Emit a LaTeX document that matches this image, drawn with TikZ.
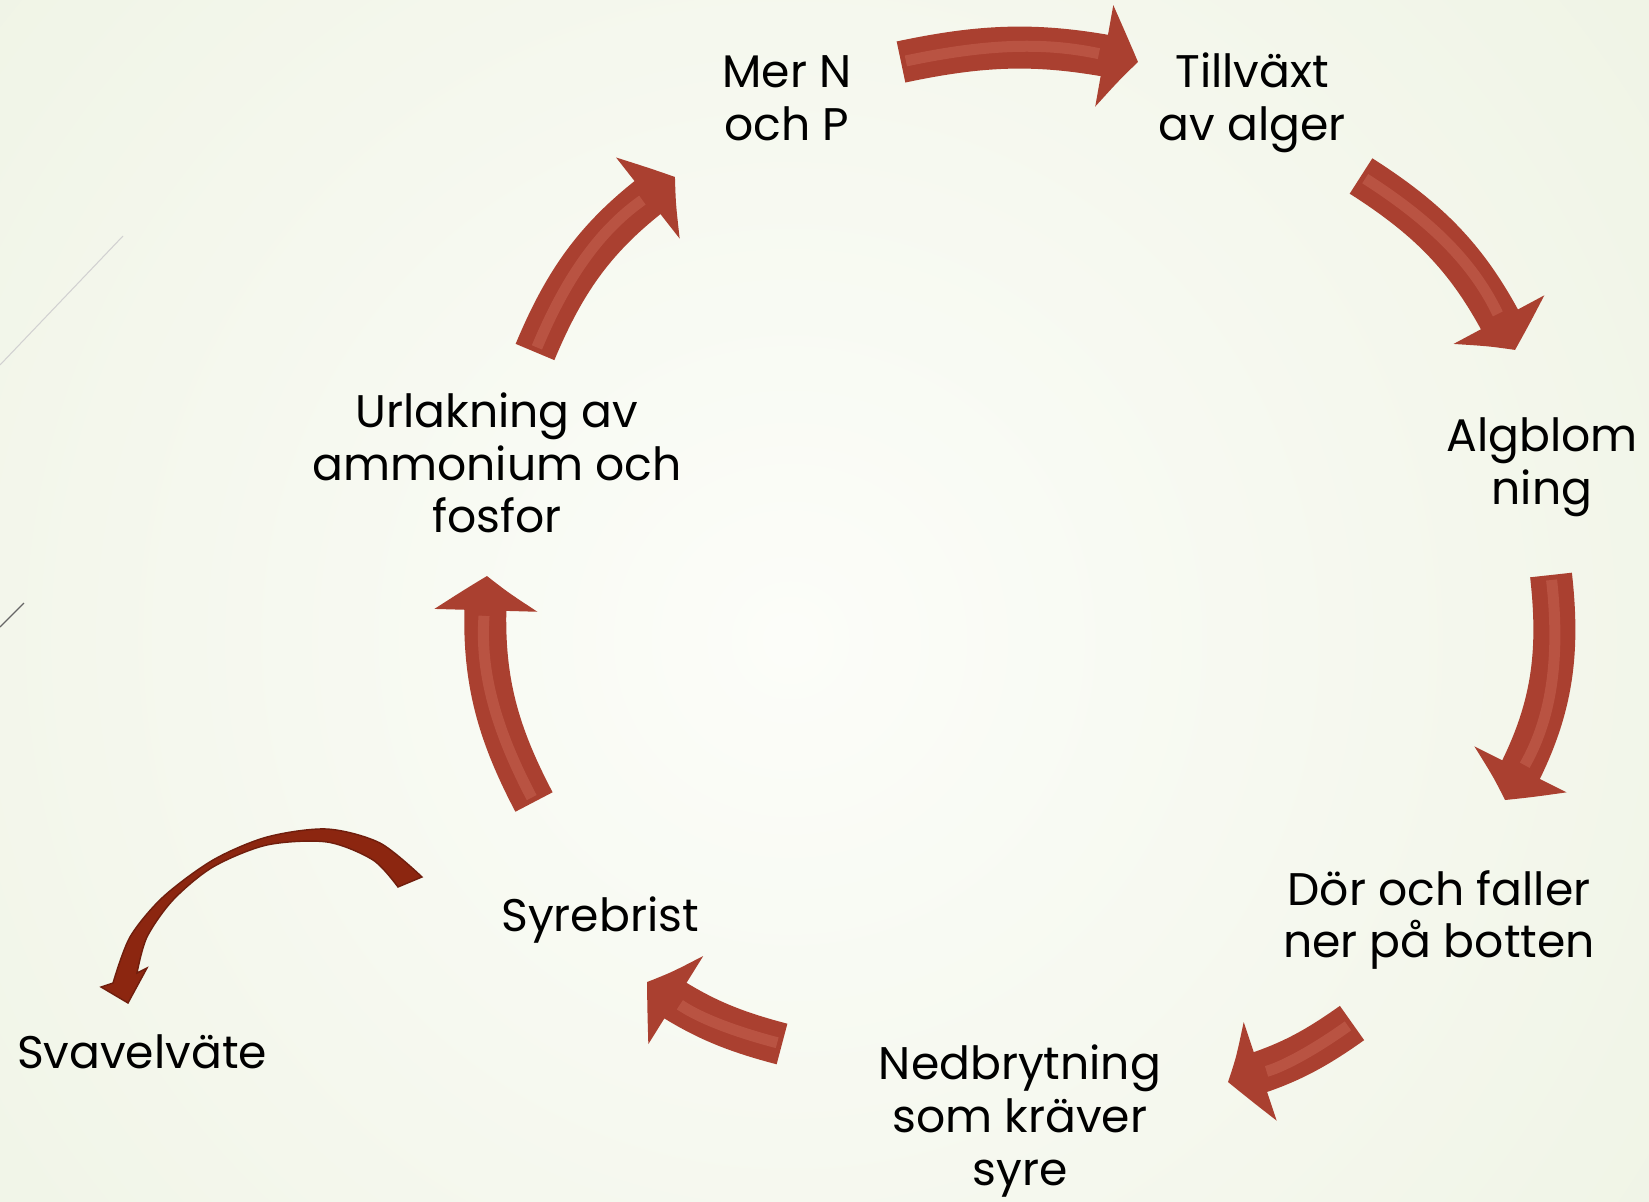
\documentclass[tikz,border=0pt]{standalone}
\usepackage{fontspec}
\setmainfont{Poppins}
\usetikzlibrary{arrows.meta,bending}
\definecolor{arrowred}{RGB}{170,64,48}
\definecolor{arrowlight}{RGB}{222,130,110}
\definecolor{darkarrow}{RGB}{140,38,16}
\definecolor{bgedge}{RGB}{229,236,213}
\definecolor{bgmid}{RGB}{252,253,249}
\newcommand{\cyclearrow}[3]{
  \draw[bigarrow] (#1) to[bend left=#3] (#2);
  \draw[sheen] (#1) to[bend left=#3] (#2);
}

\begin{document}
\begin{tikzpicture}[x=0.02cm, y=-0.02cm,
    bigarrow/.style={arrowred, line width=0.84cm, -{Triangle[length=0.7cm,width=2cm,bend]}},
    sheen/.style={arrowlight, line width=0.22cm, shorten >=0.8cm, shorten <=0.1cm, opacity=0.3},
    lbl/.style={align=center, font=\fontsize{26}{30}\selectfont}]
  \useasboundingbox (0,0) rectangle (1649,1202);
  \begin{scope}
    \clip (0,0) rectangle (1649,1202);
    \shade[inner color=bgmid, outer color=bgedge] (790,640) circle (2000);
  \end{scope}
  \draw[black!18, line width=0.6pt] (123,236) -- (0,365);
  \draw[black!60, line width=0.8pt] (24,603) -- (0,627);

  \node[lbl] (mern) at (787,98) {Mer N\\och P};
  \node[lbl] (tillvaxt) at (1252,103) {Tillväxt\\av alger};
  \node[lbl] (algblom) at (1542,467) {Algblom\\ning};
  \node[lbl] (dor) at (1439,920) {Dör och faller\\ner på botten};
  \node[lbl] (nedbrytning) at (1020,1121) {Nedbrytning\\som kräver\\syre};
  \node[lbl] (syrebrist) at (600,920) {Syrebrist};
  \node[lbl] (svavel) at (142,1052) {Svavelväte};
  \node[lbl] (urlakning) at (497,463) {Urlakning av\\ammonium och\\fosfor};

  \coordinate (a1) at (901,62);   \coordinate (b1) at (1138,62);
  \coordinate (a2) at (1361,176); \coordinate (b2) at (1515,350);
  \coordinate (a3) at (1551,575); \coordinate (b3) at (1505,800);
  \coordinate (a4) at (1352,1023); \coordinate (b4) at (1228,1082);
  \coordinate (a5) at (782,1044); \coordinate (b5) at (647,982);
  \coordinate (a6) at (534,802);  \coordinate (b6) at (487,576);
  \coordinate (a7) at (535,352);  \coordinate (b7) at (675,177);

  \cyclearrow{a1}{b1}{12}
  \cyclearrow{a2}{b2}{16}
  \cyclearrow{a3}{b3}{18}
  \cyclearrow{a4}{b4}{10}
  \cyclearrow{a5}{b5}{10}
  \cyclearrow{a6}{b6}{16}
  \cyclearrow{a7}{b7}{16}

  \filldraw[fill=darkarrow, draw=darkarrow!80!black, line width=0.8pt]
    plot[smooth] coordinates {(422,877) (380,843) (327,829) (267,837) (213,860) (163,897) (130,937) (113,983)}
    -- (101,987) -- (128,1003) -- (147,968) -- (137,973)
    -- plot[smooth] coordinates {(137,973) (147,937) (173,900) (213,867) (267,845) (327,842) (373,860) (398,887)}
    -- cycle;
\end{tikzpicture}
\end{document}
